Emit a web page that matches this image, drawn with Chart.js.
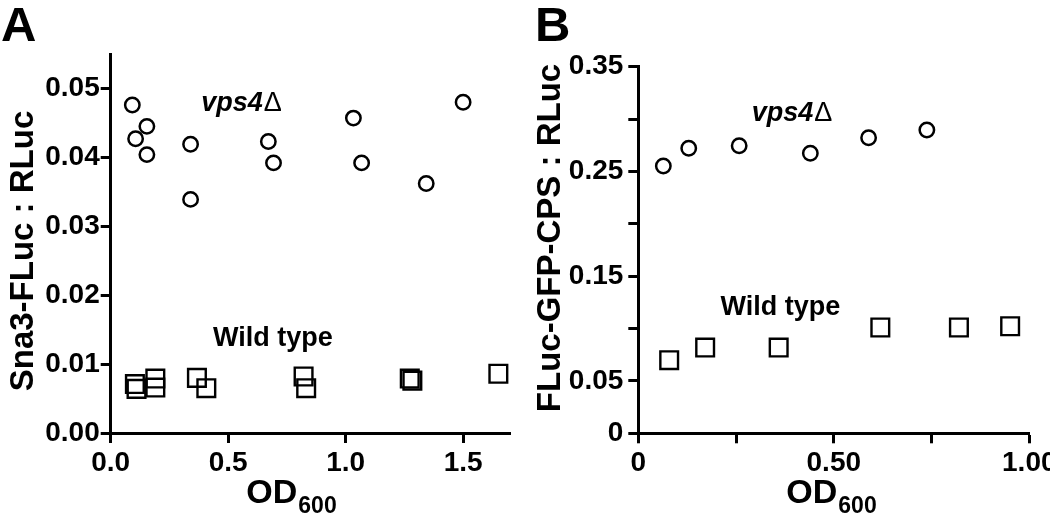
<!DOCTYPE html>
<html><head><meta charset="utf-8">
<script src="https://cdn.jsdelivr.net/npm/chart.js@4.4.0/dist/chart.umd.min.js"></script>
<style>
html,body{margin:0;padding:0;background:#fff;width:1050px;height:515px;overflow:hidden;}
.panel{position:absolute;top:0;width:525px;height:515px;}
#pa{left:0}
#pb{left:525px}
</style></head><body>
<div class="panel" id="pa"><canvas id="ca" width="525" height="515"></canvas></div>
<div class="panel" id="pb"><canvas id="cb" width="525" height="515"></canvas></div>
<script>
// ---- Panel A data (OD600 vs Sna3-FLuc : RLuc) ----
const aVpsX = [0.092, 0.106, 0.154, 0.154, 0.340, 0.340, 0.671, 0.693, 1.033, 1.068, 1.343, 1.500];
const aVpsY = [0.0476, 0.0427, 0.0445, 0.0404, 0.0419, 0.0339, 0.0423, 0.0392, 0.0457, 0.0392, 0.0362, 0.0480];
const aWtX = [0.103, 0.110, 0.190, 0.190, 0.367, 0.407, 0.821, 0.832, 1.273, 1.284, 1.650];
const aWtY = [0.0071, 0.0064, 0.0079, 0.0066, 0.0080, 0.0065, 0.0082, 0.0065, 0.0079, 0.0076, 0.0086];
const aTicksX = [0, 0.5, 1.0, 1.5];
const aTickLabelsX = ['0.0', '0.5', '1.0', '1.5'];
const aTicksY = [0, 0.01, 0.02, 0.03, 0.04, 0.05];
const aTickLabelsY = ['0.00', '0.01', '0.02', '0.03', '0.04', '0.05'];

// ---- Panel B data (OD600 vs FLuc-GFP-CPS : RLuc) ----
const bVpsX = [0.064, 0.129, 0.258, 0.440, 0.589, 0.738];
const bVpsY = [0.2552, 0.2721, 0.2746, 0.2673, 0.2822, 0.2896];
const bWtX = [0.079, 0.171, 0.359, 0.619, 0.820, 0.951];
const bWtY = [0.0698, 0.0819, 0.0819, 0.1010, 0.1010, 0.1022];
const bTicksX = [0, 0.25, 0.5, 0.75, 1.0];
const bTickLabelsX = ['0', '', '0.50', '', '1.00'];
const bTicksY = [0, 0.05, 0.10, 0.15, 0.20, 0.25, 0.30, 0.35];
const bTickLabelsY = ['0', '0.05', '', '0.15', '', '0.25', '', '0.35'];

const FONT = '"Liberation Sans", Arial, Helvetica, sans-serif';

function pts(xs, ys) { return xs.map((x, i) => ({x: x, y: ys[i]})); }

function textPlugin(c) {
  return {
    id: 'txt' + c.letter,
    afterDraw(chart) {
      const ctx = chart.ctx, xs = chart.scales.x, ys = chart.scales.y;
      ctx.save();
      ctx.fillStyle = '#000';
      ctx.textAlign = 'left';
      ctx.textBaseline = 'alphabetic';
      // panel letter
      ctx.font = 'bold 49px ' + FONT;
      ctx.fillText(c.letter, c.letterX, 41);
      // y title
      ctx.save();
      ctx.translate(c.yTitleX, c.yTitleY);
      ctx.rotate(-Math.PI / 2);
      ctx.textAlign = 'center';
      ctx.textBaseline = 'middle';
      ctx.font = 'bold 33px ' + FONT;
      ctx.fillText(c.yTitle, 0, 0);
      ctx.restore();
      // x title OD600
      ctx.font = 'bold 34px ' + FONT;
      const wOD = ctx.measureText('OD').width;
      ctx.font = 'bold 23px ' + FONT;
      const wSub = ctx.measureText('600').width;
      const x0 = c.xTitleCX - (wOD + wSub) / 2;
      ctx.font = 'bold 34px ' + FONT;
      ctx.fillText('OD', x0, 503);
      ctx.font = 'bold 23px ' + FONT;
      ctx.fillText('600', x0 + wOD + 1, 513);
      // series labels
      const vx = xs.getPixelForValue(c.vpsAt[0]), vy = ys.getPixelForValue(c.vpsAt[1]);
      ctx.font = 'italic bold 27px ' + FONT;
      ctx.fillText('vps4', vx, vy);
      const wv = ctx.measureText('vps4').width;
      ctx.font = '27px ' + FONT;
      ctx.fillText('\u0394', vx + wv + 1, vy);
      ctx.font = 'bold 27px ' + FONT;
      ctx.fillText('Wild type', xs.getPixelForValue(c.wtAt[0]), ys.getPixelForValue(c.wtAt[1]));
      ctx.restore();
    }
  };
}

function makeChart(id, o) {
  const axisCommon = (ticks, labels, extra) => Object.assign({
    type: 'linear',
    grid: {display: true, drawOnChartArea: false, drawTicks: true, tickLength: 10, tickWidth: 3, tickColor: '#000', color: '#000'},
    border: {display: true, color: '#000', width: 3},
    afterBuildTicks: s => { s.ticks = ticks.map(v => ({value: v})); },
  }, extra);
  return new Chart(document.getElementById(id), {
    type: 'scatter',
    data: {
      datasets: [
        {data: pts(o.vx, o.vy), pointStyle: 'circle', pointRadius: 7.2, pointBorderWidth: 2.5,
         borderColor: '#000', backgroundColor: 'rgba(0,0,0,0)', pointBackgroundColor: 'rgba(0,0,0,0)', pointBorderColor: '#000', clip: false},
        {data: pts(o.wx, o.wy), pointStyle: 'rect', pointRadius: 12.5, pointBorderWidth: 2.4,
         borderColor: '#000', backgroundColor: 'rgba(0,0,0,0)', pointBackgroundColor: 'rgba(0,0,0,0)', pointBorderColor: '#000', clip: false}
      ]
    },
    options: {
      responsive: false, animation: false, devicePixelRatio: 1,
      layout: {padding: {left: 0, right: o.padRight, top: o.padTop, bottom: 0}},
      plugins: {legend: {display: false}, tooltip: {enabled: false}},
      events: [],
      scales: {
        x: axisCommon(o.tx, o.txl, {
          min: 0, max: o.xmax,
          ticks: {autoSkip: false, maxRotation: 0, minRotation: 0, padding: 3, color: '#000',
                  font: {family: FONT, size: 28, weight: 'bold'},
                  callback: (v, i) => o.txl[i]},
          afterFit: s => { s.height = o.xAxisH; s.paddingLeft = s.paddingRight = s.paddingTop = s.paddingBottom = 0; }
        }),
        y: axisCommon(o.ty, o.tyl, {
          min: 0, max: o.ymax,
          ticks: {autoSkip: false, padding: o.yPad, color: '#000',
                  font: {family: FONT, size: 28, weight: 'bold'},
                  callback: (v, i) => o.tyl[i]},
          afterFit: s => { s.width = o.yAxisW; s.paddingLeft = s.paddingRight = s.paddingTop = s.paddingBottom = 0; }
        })
      }
    },
    plugins: [textPlugin(o.text)]
  });
}

makeChart('ca', {
  vx: aVpsX, vy: aVpsY, wx: aWtX, wy: aWtY,
  tx: aTicksX, txl: aTickLabelsX, ty: aTicksY, tyl: aTickLabelsY,
  xmax: 1.7, ymax: 0.055, padRight: 10, padTop: 54, xAxisH: 82, yAxisW: 110.7, yPad: 1,
  text: {letter: 'A', letterX: 1, yTitle: 'Sna3-FLuc : RLuc', yTitleX: 24, yTitleY: 251,
         xTitleCX: 291, vpsAt: [0.385, 0.0467], wtAt: [0.435, 0.0126]}
});
makeChart('cb', {
  vx: bVpsX, vy: bVpsY, wx: bWtX, wy: bWtY,
  tx: bTicksX, txl: bTickLabelsX, ty: bTicksY, tyl: bTickLabelsY,
  xmax: 1.0, ymax: 0.35, padRight: 20.7, padTop: 66.7, xAxisH: 81.7, yAxisW: 113.3, yPad: 5,
  text: {letter: 'B', letterX: 10, yTitle: 'FLuc-GFP-CPS : RLuc', yTitleX: 26, yTitleY: 238,
         xTitleCX: 306, vpsAt: [0.29, 0.2982], wtAt: [0.21, 0.113]}
});
</script>
</body></html>
